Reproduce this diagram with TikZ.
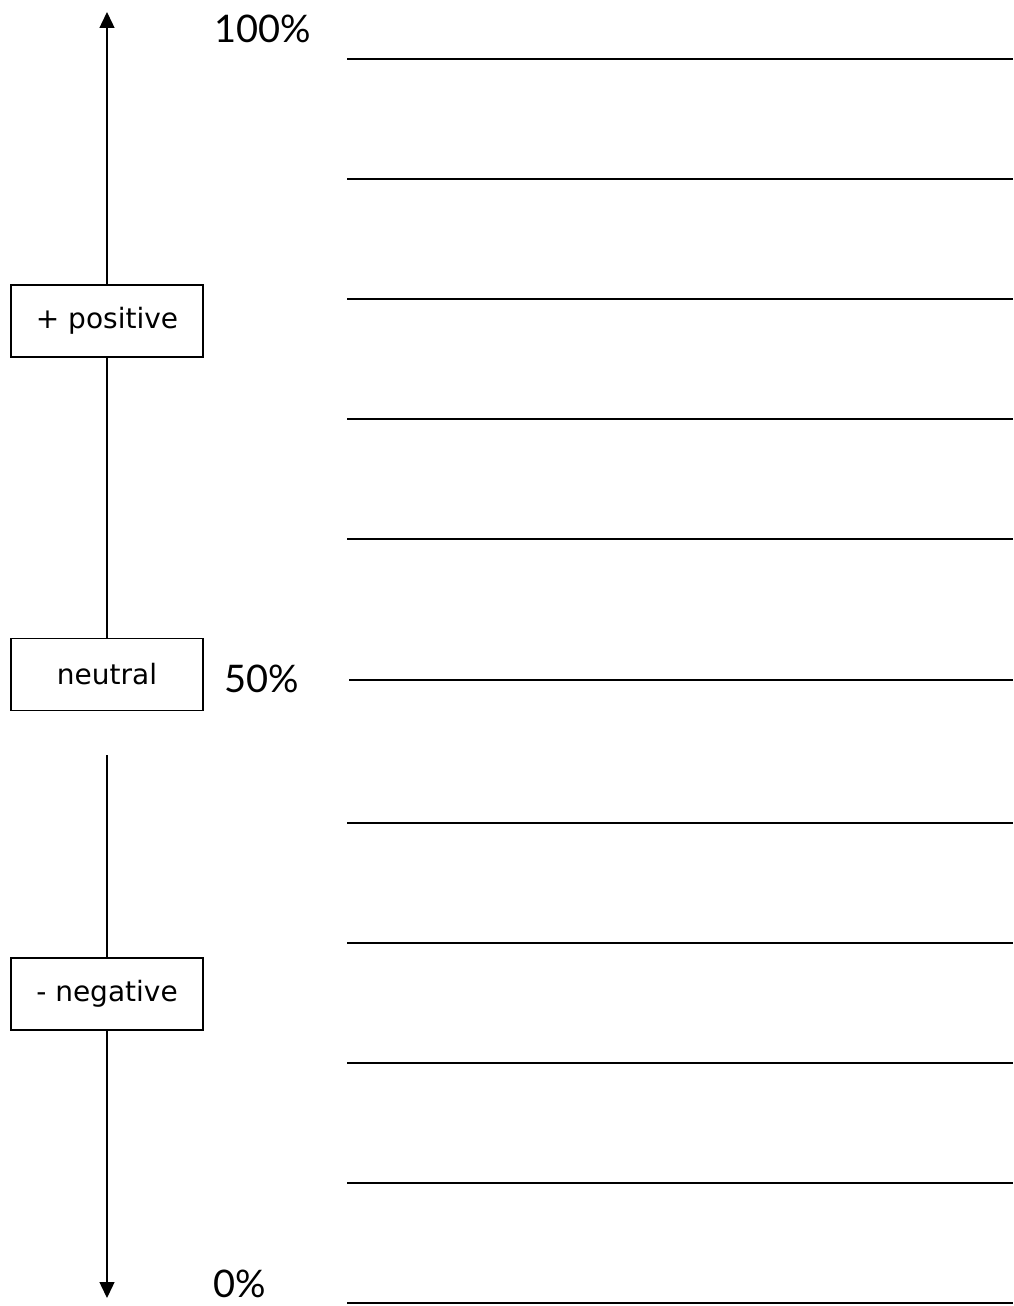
\documentclass[tikz,border=0pt]{standalone}
\usepackage{fontspec}
\setmainfont{Lato}
\newfontfamily\boxfont{DejaVu Sans}
\usetikzlibrary{arrows.meta}
\begin{document}
\begin{tikzpicture}[x=1pt,y=-1pt,
  box/.style={draw,line width=1.4pt,minimum width=192pt,minimum height=72pt,inner sep=0pt,font=\boxfont\fontsize{28}{31}\selectfont},
  pct/.style={inner sep=0pt,font=\fontsize{38}{42}\selectfont},
  axis/.style={line width=1.4pt},
  tip/.style={-{Triangle[length=16pt,width=15pt]}},
  rule/.style={line width=1.4pt}]
\useasboundingbox (0,0) rectangle (1013,1306);
\node[box] (pos) at (107,321) {+ positive};
\node[box] (neu) at (107,674.5) {neutral};
\node[box] (neg) at (107,994) {- negative};
\coordinate (top) at (107,12);
\coordinate (bot) at (107,1298);
\coordinate (gap) at (107,755);
\draw[axis,tip] (pos.north) -- (top);
\draw[axis] (pos.south) -- (neu.north);
\draw[axis] (gap) -- (neg.north);
\draw[axis,tip] (neg.south) -- (bot);
\node[pct] (p100) at (263,29) {100\%};
\node[pct] (p50) at (262,679) {50\%};
\node[pct] (p0) at (240,1284) {0\%};
\foreach \y in {59,179,299,419,539,823,943,1063,1183,1303}{
  \draw[rule] (347,\y) -- (1013,\y);
}
\draw[rule] (349,680) -- (1013,680);
\end{tikzpicture}
\end{document}
